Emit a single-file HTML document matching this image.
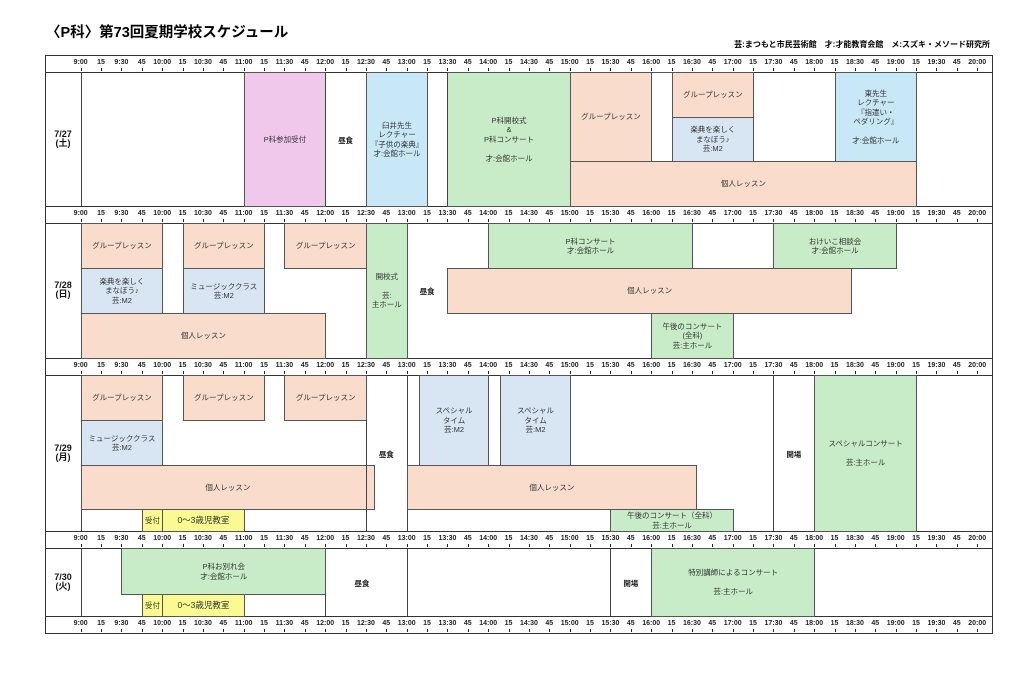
<!DOCTYPE html>
<html><head><meta charset="utf-8"><style>
body{margin:0;width:1024px;height:673px;background:#fff;position:relative;overflow:hidden;font-family:"Liberation Sans","Noto Sans CJK JP",sans-serif;}
.a{position:absolute;box-sizing:border-box;}
.b{border:1px solid #555;display:flex;align-items:center;justify-content:center;text-align:center;font-size:7.5px;line-height:1.25;color:#333;}
.t{font-size:7px;font-weight:bold;color:#222;transform:translateX(-50%);white-space:nowrap;}
.tk{width:1px;height:3px;background:#222;}
.vl{width:1px;background:#444;}
.hl{height:1px;background:#333;}
.lab{font-size:9px;font-weight:bold;text-align:center;line-height:1;color:#111;}
</style></head><body>
<div class="a" style="left:46px;top:21px;font-size:14.5px;font-weight:bold;">〈P科〉第73回夏期学校スケジュール</div>
<div class="a" style="right:34px;top:39px;font-size:8px;font-weight:bold;">芸:まつもと市民芸術館　才:才能教育会館　メ:スズキ・メソード研究所</div>
<div class="a" style="left:45px;top:55px;width:948px;height:579px;border:1.5px solid #333;"></div>
<div id="c"></div>
<script>
var c=document.getElementById('c'),h='';
function X(t){return 80.7+(t-9)*81.5;}
function box(t1,t2,y1,y2,col,txt){h+='<div class="a b" style="left:'+X(t1)+'px;width:'+(X(t2)-X(t1)+1)+'px;top:'+y1+'px;height:'+(y2-y1+1)+'px;background:'+col+'">'+txt+'</div>';}
function txt(t,y,s){h+='<div class="a t" style="left:'+X(t)+'px;top:'+(y-4)+'px;font-size:7.5px">'+s+'</div>';}
function vl(t,y1,y2){h+='<div class="a vl" style="left:'+X(t)+'px;top:'+y1+'px;height:'+(y2-y1)+'px"></div>';}
var rows=[[55,72],[206,223],[358,375],[531,548],[616,633]];
rows.forEach(function(r){
 h+='<div class="a hl" style="left:45px;width:948px;top:'+r[1]+'px"></div>';
 if(r[0]>55)h+='<div class="a hl" style="left:45px;width:948px;top:'+r[0]+'px"></div>';
 for(var i=0;i<=44;i++){var t=9+i/4,m=i%4,hr=Math.floor(t);
  var s=m==0?hr+':00':m==2?hr+':30':m==1?'15':'45';
  h+='<div class="a t" style="left:'+X(t)+'px;top:'+(r[0]+4)+'px">'+s+'</div>';
  h+='<div class="a tk" style="left:'+X(t)+'px;top:'+(r[1]-4)+'px"></div>';}
});
var P='#f9dccb',B='#d8e6f4',LB='#c8e8f8',G='#c8ecc8',K='#f0c8ec',Y='#fafa90';
[['7/27<br>(土)',139],['7/28<br>(日)',290],['7/29<br>(月)',453],['7/30<br>(火)',582]].forEach(function(d){h+='<div class="a lab" style="left:45px;width:36px;top:'+(d[1]-9)+'px">'+d[0]+'</div>';});
[[72,206],[223,358],[375,531],[548,616]].forEach(function(r){vl(9,r[0],r[1]);});
// Day1
box(11,12,72,206,K,'P科参加受付');txt(12.25,139,'昼食');
box(12.5,13.25,72,206,LB,'臼井先生<br>レクチャー<br>『子供の楽典』<br>才:会館ホール');
box(13.5,15,72,206,G,'P科開校式<br>&amp;<br>P科コンサート<br><br>才:会館ホール');
box(15,16,72,161,P,'グループレッスン');
box(16,16.25,72,161,'#fff','');
box(16.25,17.25,72,117,P,'グループレッスン');
box(16.25,17.25,117,161,B,'楽典を楽しく<br>まなぼう♪<br>芸:M2');
box(18.25,19.25,72,161,LB,'東先生<br>レクチャー<br>『指遣い・<br>ペダリング』<br><br>才:会館ホール');
box(15,19.25,161,206,P,'個人レッスン');
vl(12,72,206);vl(13.5,72,206);
// Day2
box(9,10,223,268,P,'グループレッスン');box(9,10,268,313,B,'楽典を楽しく<br>まなぼう♪<br>芸:M2');
box(9,12,313,358,P,'個人レッスン');
box(10.25,11.25,223,268,P,'グループレッスン');box(10.25,11.25,268,313,B,'ミュージッククラス<br>芸:M2');
box(11.5,12.5,223,268,P,'グループレッスン');
box(12.5,13,223,358,G,'開校式<br><br>芸:<br>主ホール');txt(13.25,290,'昼食');
box(14,16.5,223,268,G,'P科コンサート<br>才:会館ホール');
box(13.5,18.45,268,313,P,'個人レッスン');
box(16,17,313,358,G,'午後のコンサート<br>(全科)<br>芸:主ホール');
box(17.5,19,223,268,G,'おけいこ相談会<br>才:会館ホール');
// Day3
box(9,10,375,420,P,'グループレッスン');box(9,10,420,465,B,'ミュージッククラス<br>芸:M2');
box(9,12.6,465,509,P,'個人レッスン');
box(9.75,10,509,531,Y,'受付');box(10,11,509,531,Y,'<span style="font-size:8.5px">0〜3歳児教室</span>');
box(10.25,11.25,375,420,P,'グループレッスン');box(11.5,12.5,375,420,P,'グループレッスン');
vl(12.5,420,531);vl(13,375,531);txt(12.75,453,'昼食');
box(13.15,14,375,465,B,'スペシャル<br>タイム<br>芸:M2');box(14.15,15,375,465,B,'スペシャル<br>タイム<br>芸:M2');
box(13,16.55,465,509,P,'個人レッスン');
box(15.5,17,509,531,G,'午後のコンサート（全科）<br>芸:主ホール');
vl(17.5,375,531);txt(17.75,453,'開場');
box(18,19.25,375,531,G,'スペシャルコンサート<br><br>芸:主ホール');
// Day4
box(9.5,12,548,594,G,'P科お別れ会<br>才:会館ホール');
box(9.75,10,594,616,Y,'受付');box(10,11,594,616,Y,'<span style="font-size:8.5px">0〜3歳児教室</span>');
vl(12,594,616);txt(12.45,582,'昼食');vl(13,548,616);vl(15.5,548,616);txt(15.75,582,'開場');
box(16,18,548,616,G,'特別講師によるコンサート<br><br>芸:主ホール');
c.innerHTML=h;
</script>
</body></html>
